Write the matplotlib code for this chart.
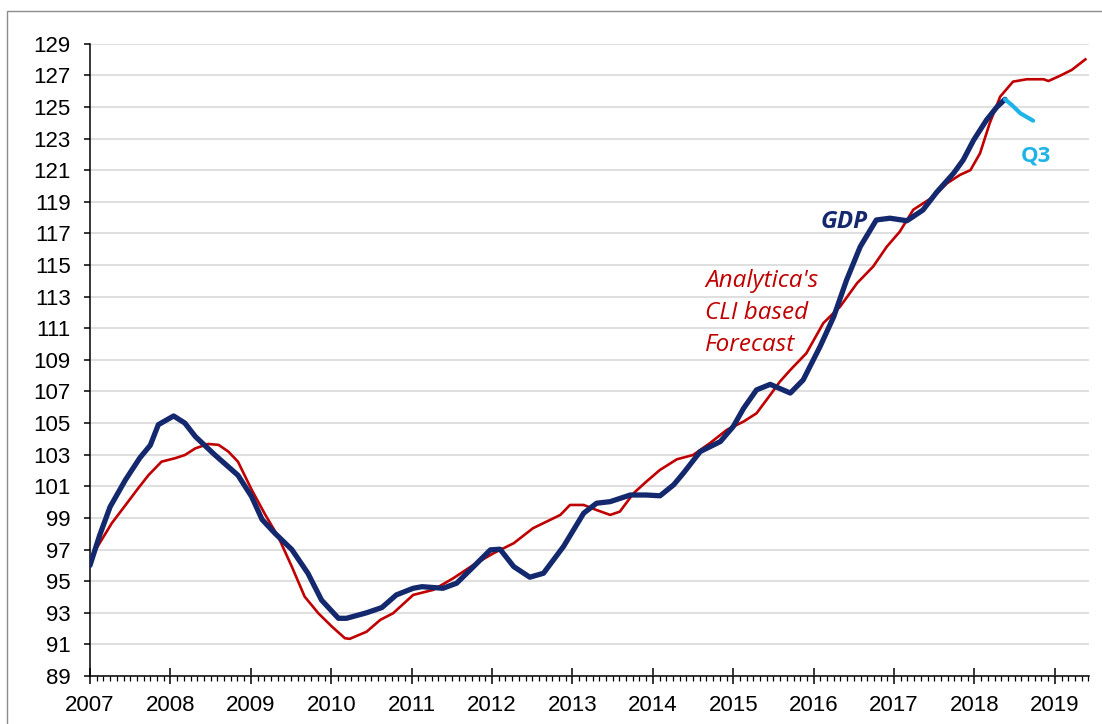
import numpy as np
import matplotlib
matplotlib.use("Agg")
import matplotlib.pyplot as plt
from matplotlib.patches import Rectangle
from matplotlib.ticker import FixedLocator

# data (decimal years, index values)
gdp_t = [2007.00, 2007.12, 2007.25, 2007.44, 2007.62, 2007.75, 2007.85, 2008.04, 2008.18,
         2008.31, 2008.55, 2008.84, 2009.01, 2009.14, 2009.30, 2009.51, 2009.71, 2009.88,
         2010.09, 2010.19, 2010.44, 2010.63, 2010.81, 2011.02, 2011.13, 2011.39, 2011.56,
         2011.77, 2011.98, 2012.10, 2012.27, 2012.47, 2012.64, 2012.89, 2013.14, 2013.30,
         2013.47, 2013.72, 2013.92, 2014.09, 2014.26, 2014.38, 2014.59, 2014.84, 2015.00,
         2015.13, 2015.29, 2015.46, 2015.71, 2015.87, 2016.08, 2016.25, 2016.41, 2016.58,
         2016.78, 2016.95, 2017.16, 2017.36, 2017.53, 2017.74, 2017.86, 2017.99, 2018.15,
         2018.28, 2018.38]
gdp_v = [96.0, 97.9, 99.7, 101.4, 102.8, 103.6, 104.9, 105.45, 105.0,
         104.15, 103.0, 101.7, 100.35, 98.9, 98.03, 97.0, 95.5, 93.8,
         92.65, 92.65, 93.0, 93.33, 94.13, 94.55, 94.65, 94.55, 94.87,
         95.92, 96.98, 97.02, 95.92, 95.25, 95.5, 97.2, 99.3, 99.93,
         100.03, 100.45, 100.45, 100.4, 101.1, 101.83, 103.2, 103.83, 104.78,
         105.94, 107.1, 107.45, 106.9, 107.73, 109.84, 111.73, 114.05, 116.16,
         117.85, 117.96, 117.8, 118.48, 119.6, 120.8, 121.64, 122.9, 124.17,
         125.0, 125.48]

q3_t = [2018.38, 2018.47, 2018.57, 2018.73]
q3_v = [125.48, 125.1, 124.6, 124.13]

cli_t = [2007.00, 2007.27, 2007.44, 2007.60, 2007.73, 2007.89, 2008.06, 2008.18, 2008.31,
         2008.47, 2008.60, 2008.72, 2008.84, 2009.01, 2009.18, 2009.34, 2009.51, 2009.67,
         2009.84, 2010.01, 2010.17, 2010.23, 2010.44, 2010.61, 2010.77, 2011.02, 2011.27,
         2011.52, 2011.77, 2012.02, 2012.27, 2012.51, 2012.68, 2012.85, 2012.97, 2013.14,
         2013.30, 2013.47, 2013.59, 2013.76, 2013.92, 2014.09, 2014.30, 2014.50, 2014.71,
         2014.92, 2015.13, 2015.29, 2015.46, 2015.58, 2015.71, 2015.91, 2016.12, 2016.33,
         2016.54, 2016.74, 2016.91, 2017.07, 2017.24, 2017.49, 2017.66, 2017.82, 2017.95,
         2018.07, 2018.19, 2018.32, 2018.48, 2018.65, 2018.86, 2018.92, 2019.06, 2019.21,
         2019.38]
cli_v = [96.4, 98.66, 99.8, 100.88, 101.72, 102.56, 102.78, 102.98, 103.4,
         103.68, 103.62, 103.2, 102.56, 100.79, 99.2, 97.82, 95.92, 94.02,
         92.97, 92.12, 91.39, 91.35, 91.8, 92.55, 92.97, 94.13, 94.45,
         95.19, 96.03, 96.77, 97.4, 98.35, 98.77, 99.19, 99.82, 99.82,
         99.5, 99.19, 99.4, 100.56, 101.3, 102.04, 102.71, 102.98, 103.73,
         104.57, 105.1, 105.62, 106.78, 107.62, 108.36, 109.42, 111.32, 112.37,
         113.85, 114.9, 116.16, 117.1, 118.5, 119.32, 120.17, 120.7, 121.0,
         122.07, 123.97, 125.65, 126.6, 126.75, 126.75, 126.64, 126.96, 127.34,
         128.01]

years = list(range(2007, 2020))

navy = "#14286e"
red = "#c00000"
sky = "#1eb4e8"

fig = plt.figure(figsize=[11.02, 7.24], dpi=100)
# outer chart-area frame (cut off at right and bottom)
fig.patches.append(Rectangle((7 / 1102, -0.1), 1.2, 1.1 - 11 / 724,
                             transform=fig.transFigure, fill=False, edgecolor="#8c8c8c", lw=1.0))
ax = fig.add_axes([90 / 1102, 48 / 724, 999 / 1102, 632.3 / 724])

ax.plot(cli_t, cli_v, color=red, lw=1.9, zorder=3, solid_joinstyle="round")
ax.plot(gdp_t, gdp_v, color=navy, lw=3.8, zorder=4, solid_capstyle="round", solid_joinstyle="round")
ax.plot(q3_t, q3_v, color=sky, lw=3.0, zorder=4, solid_capstyle="round", solid_joinstyle="round")

ax.set_xlim(2007, 2019.425)
ax.set_ylim(89, 129)
ax.set_yticks(np.arange(89, 130, 2))
ax.xaxis.set_major_locator(FixedLocator(years))
ax.xaxis.set_minor_locator(FixedLocator(np.arange(2007, 2019.43, 1 / 12)))
ax.set_xticklabels([str(y) for y in years])

ax.grid(axis="y", color="#d9d9d9", lw=1.2, zorder=0)
ax.set_axisbelow(True)
for s in ["top", "right"]:
    ax.spines[s].set_visible(False)
for s in ["left", "bottom"]:
    ax.spines[s].set_linewidth(1.1)
    ax.spines[s].set_color("black")

ax.tick_params(axis="y", which="major", direction="out", length=4, width=1.1, labelsize=16, pad=10)
ax.tick_params(axis="x", which="major", direction="inout", length=12, width=1.1, labelsize=16, pad=8)
ax.tick_params(axis="x", which="minor", direction="out", length=3.5, width=0.9)
for lab in ax.get_xticklabels() + ax.get_yticklabels():
    lab.set_fontfamily("Liberation Sans")

ax.text(2016.08, 117.74, "GDP", color=navy, fontsize=17.5, fontweight="bold", fontstyle="italic",
        family="Open Sans", va="center", ha="left")
for txt, yy in zip(["Analytica's", "CLI based", "Forecast"], [113.99, 111.97, 109.94]):
    ax.text(2014.65, yy, txt, color=red, fontsize=17.5, fontstyle="italic",
            family="Open Sans", va="center", ha="left")
ax.text(2018.57, 121.9, "Q3", color=sky, fontsize=16, fontweight="bold",
        family="Open Sans", va="center", ha="left")

fig.savefig("out.png", dpi=100)
